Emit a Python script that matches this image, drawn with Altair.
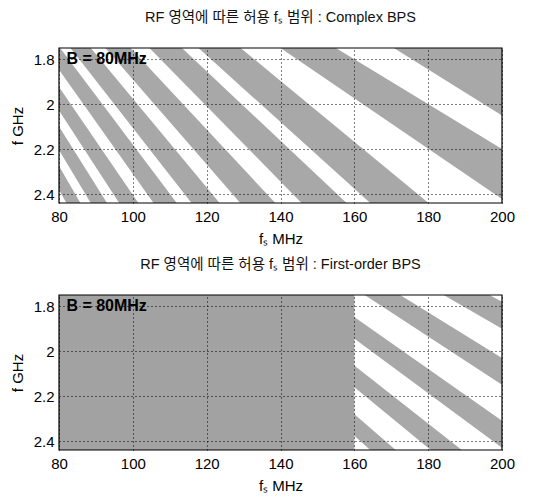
import altair as alt
import pandas as pd

# ---------------- data ----------------
fs_domain = [80, 200]          # MHz
fc_domain = [1.75, 2.44]       # GHz (shown top -> bottom)
x_ticks = [80, 100, 120, 140, 160, 180, 200]
y_ticks = [1.8, 2.0, 2.2, 2.4]

# each gray (forbidden) band: fs (MHz) of its left / right edge where it crosses
# the top (fc = 1.75 GHz) and the bottom (fc = 2.44 GHz) of the plot
edge_fc = [1.75, 2.44]

# Complex BPS
cx_left_top = [170.7, 140.0, 117.8, 104.5, 92.6, 83.1, 75.8, 69.0, 63.5, 58.8, 54.8]
cx_right_top = [200.0, 155.0, 129.2, 113.3, 99.4, 88.6, 80.3, 72.8, 66.7, 61.5, 57.1]
cx_left_bot = [238.0, 201.6, 164.3, 145.7, 129.1, 115.9, 105.6, 96.3, 88.6, 82.0, 76.4]
cx_right_bot = [278.9, 224.0, 180.1, 157.9, 138.6, 123.5, 111.9, 101.5, 93.0, 85.8, 79.6]

# First-order BPS: everything below fs = 2B = 160 MHz is forbidden
fo_block_fs = [80, 160]
fo_left_top = [184.2, 162.8, 144.0, 129.6, 117.8]
fo_right_top = [196.6, 172.4, 151.5, 135.7, 122.8]
fo_left_bot = [256.8, 227.0, 200.8, 180.7, 164.3]
fo_right_bot = [274.2, 240.4, 211.3, 189.1, 171.2]

label_text = "B = 80MHz"
label_fs = 82.0
label_fc = 1.8

titles = ["RF 영역에 따른 허용 fₛ 범위 : Complex BPS",
          "RF 영역에 따른 허용 fₛ 범위 : First-order BPS"]

# ---------------- styling ----------------
W, H = 443, 155
GRAY = "#a8a8a8"
BLOCK_GRAY = "#a2a2a2"
FONT = "Liberation Sans Narrow, Liberation Sans, Arial"
TFONT = "Liberation Sans, Noto Sans CJK KR"


def bands_frame(lt, rt, lb, rb):
    rows = []
    for i in range(len(lt)):
        rows.append({"band": i, "fc": edge_fc[0], "fs_l": lt[i], "fs_r": rt[i]})
        rows.append({"band": i, "fc": edge_fc[1], "fs_l": lb[i], "fs_r": rb[i]})
    return pd.DataFrame(rows)


x_scale = alt.Scale(domain=fs_domain, nice=False, zero=False)
y_scale = alt.Scale(domain=fc_domain, nice=False, zero=False, reverse=True)

x_axis = alt.Axis(values=x_ticks, format="d", grid=True, gridDash=[1, 3],
                  gridColor="black", gridOpacity=1, gridWidth=1, domain=False,
                  ticks=False, labelFont=FONT, labelFontSize=15, labelColor="black",
                  labelPadding=6, labelFlush=False, titleFont=FONT, titleFontSize=15,
                  titleFontWeight=400, titleColor="black", titlePadding=7, zindex=1)
y_axis = alt.Axis(values=y_ticks, format="~g", grid=True, gridDash=[1, 3],
                  gridColor="black", gridOpacity=1, gridWidth=1, domain=False,
                  ticks=False, labelFont=FONT, labelFontSize=15, labelColor="black",
                  labelPadding=5, labelFlush=False, titleFont=FONT, titleFontSize=15,
                  titleFontWeight=400, titleColor="black", titlePadding=8, zindex=1)


def panel(df, title, block=None):
    layers = [alt.Chart(df).mark_area(orient="horizontal", clip=True, color=GRAY,
                                      opacity=1).encode(
        y=alt.Y("fc:Q", scale=y_scale, axis=y_axis, title="f GHz"),
        x=alt.X("fs_l:Q", scale=x_scale, axis=x_axis, title="fₛ MHz"),
        x2="fs_r:Q",
        detail="band:N")]
    if block is not None:
        bdf = pd.DataFrame({"fs_l": [block[0]], "fs_r": [block[1]],
                            "fc_t": [fc_domain[0]], "fc_b": [fc_domain[1]]})
        layers.append(alt.Chart(bdf).mark_rect(color=BLOCK_GRAY, clip=True).encode(
            x=alt.X("fs_l:Q", scale=x_scale),
            x2="fs_r:Q",
            y=alt.Y("fc_t:Q", scale=y_scale),
            y2="fc_b:Q"))
    tdf = pd.DataFrame({"fs": [label_fs], "fc": [label_fc], "t": [label_text]})
    layers.append(alt.Chart(tdf).mark_text(align="left", baseline="middle", font=FONT,
                                           fontSize=16, fontWeight="bold",
                                           color="black").encode(
        x=alt.X("fs:Q", scale=x_scale), y=alt.Y("fc:Q", scale=y_scale), text="t:N"))
    layers.append(alt.Chart(tdf).mark_rect(fill=None, stroke="black",
                                           strokeWidth=1.2).encode(
        x=alt.value(0), x2=alt.value(W), y=alt.value(0), y2=alt.value(H)))
    return alt.layer(*layers).properties(
        width=W, height=H,
        title=alt.TitleParams(text=title, font=TFONT, fontSize=14.5,
                              fontWeight="normal", color="#111", anchor="middle",
                              offset=22))


top = panel(bands_frame(cx_left_top, cx_right_top, cx_left_bot, cx_right_bot), titles[0])
bottom = panel(bands_frame(fo_left_top, fo_right_top, fo_left_bot, fo_right_bot),
               titles[1], block=fo_block_fs)

chart = alt.vconcat(top, bottom, spacing=10).properties(
    padding={"left": 10, "top": 9, "right": 10, "bottom": 2},
    background="white"
).configure_view(stroke=None).configure_axis(titleFontWeight=400)

chart.save("out.html", embed_options={"renderer": "svg", "actions": False})
